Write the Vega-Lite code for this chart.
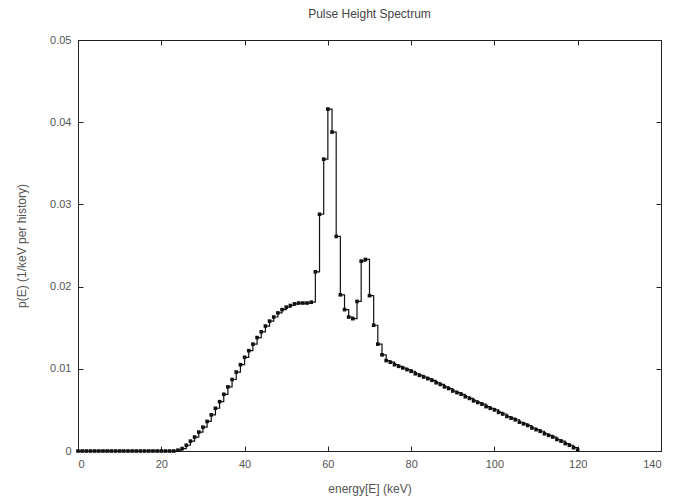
{
  "$schema": "https://vega.github.io/schema/vega-lite/v6.json",
  "width": 583,
  "height": 411,
  "autosize": {"type": "none"},
  "padding": {"left": 78, "top": 40, "right": 13, "bottom": 48},
  "background": "white",
  "config": {
    "view": {"stroke": null},
    "font": "Liberation Sans",
    "axis": {
      "domainColor": "#222",
      "domainWidth": 1,
      "tickColor": "#222",
      "tickSize": -5,
      "grid": false,
      "labelFont": "Liberation Sans",
      "labelFontSize": 11,
      "labelColor": "#555",
      "titleFont": "Liberation Sans",
      "titleFontSize": 12,
      "titleFontWeight": "normal",
      "titleColor": "#555"
    }
  },
  "title": {
    "text": "Pulse Height Spectrum",
    "fontSize": 12,
    "fontWeight": "normal",
    "color": "#444",
    "font": "Liberation Sans",
    "offset": 13
  },
  "data": {
    "values": [
      {"E":0,"p":0},{"E":1,"p":0},{"E":2,"p":0},{"E":3,"p":0},{"E":4,"p":0},{"E":5,"p":0},{"E":6,"p":0},{"E":7,"p":0},{"E":8,"p":0},{"E":9,"p":0},
      {"E":10,"p":0},{"E":11,"p":0},{"E":12,"p":0},{"E":13,"p":0},{"E":14,"p":0},{"E":15,"p":0},{"E":16,"p":0},{"E":17,"p":0},{"E":18,"p":0},{"E":19,"p":0},
      {"E":20,"p":0},{"E":21,"p":0},{"E":22,"p":0},{"E":23,"p":0},{"E":24,"p":0.0001},
      {"E":25,"p":0.0003},{"E":26,"p":0.0007},{"E":27,"p":0.0012},{"E":28,"p":0.0017},{"E":29,"p":0.0023},
      {"E":30,"p":0.0029},{"E":31,"p":0.0036},{"E":32,"p":0.0044},{"E":33,"p":0.0052},{"E":34,"p":0.0060},
      {"E":35,"p":0.0069},{"E":36,"p":0.0078},{"E":37,"p":0.0087},{"E":38,"p":0.0096},{"E":39,"p":0.0105},
      {"E":40,"p":0.0114},{"E":41,"p":0.0122},{"E":42,"p":0.0130},{"E":43,"p":0.0138},{"E":44,"p":0.0145},
      {"E":45,"p":0.0152},{"E":46,"p":0.0158},{"E":47,"p":0.0163},{"E":48,"p":0.0168},{"E":49,"p":0.0172},
      {"E":50,"p":0.0175},{"E":51,"p":0.0177},{"E":52,"p":0.0179},{"E":53,"p":0.0180},{"E":54,"p":0.0180},
      {"E":55,"p":0.0180},{"E":56,"p":0.0181},
      {"E":57,"p":0.0218},{"E":58,"p":0.0288},{"E":59,"p":0.0355},{"E":60,"p":0.0416},{"E":61,"p":0.0388},
      {"E":62,"p":0.0261},{"E":63,"p":0.0190},{"E":64,"p":0.0172},{"E":65,"p":0.0163},{"E":66,"p":0.0161},
      {"E":67,"p":0.0182},{"E":68,"p":0.0231},{"E":69,"p":0.0233},{"E":70,"p":0.0189},{"E":71,"p":0.0153},
      {"E":72,"p":0.0130},{"E":73,"p":0.0117},
      {"E":74,"p":0.0110},{"E":75,"p":0.0108},{"E":76,"p":0.0105},{"E":77,"p":0.0103},{"E":78,"p":0.0101},
      {"E":79,"p":0.0099},{"E":80,"p":0.0097},{"E":81,"p":0.0094},{"E":82,"p":0.0092},{"E":83,"p":0.0090},
      {"E":84,"p":0.0088},{"E":85,"p":0.0086},{"E":86,"p":0.0083},{"E":87,"p":0.0081},{"E":88,"p":0.0078},
      {"E":89,"p":0.0076},{"E":90,"p":0.0073},{"E":91,"p":0.0071},{"E":92,"p":0.0069},{"E":93,"p":0.0066},
      {"E":94,"p":0.0064},{"E":95,"p":0.0061},{"E":96,"p":0.0059},{"E":97,"p":0.0057},{"E":98,"p":0.0054},
      {"E":99,"p":0.0052},{"E":100,"p":0.0050},{"E":101,"p":0.0047},{"E":102,"p":0.0045},{"E":103,"p":0.0042},
      {"E":104,"p":0.0040},{"E":105,"p":0.0038},{"E":106,"p":0.0035},{"E":107,"p":0.0033},{"E":108,"p":0.0031},
      {"E":109,"p":0.0028},{"E":110,"p":0.0026},{"E":111,"p":0.0024},{"E":112,"p":0.0021},{"E":113,"p":0.0019},
      {"E":114,"p":0.0017},{"E":115,"p":0.0014},{"E":116,"p":0.0012},{"E":117,"p":0.0009},{"E":118,"p":0.0007},
      {"E":119,"p":0.0004},{"E":120,"p":0.0001}
    ]
  },
  "resolve": {"axis": {"x": "independent", "y": "independent"}},
  "layer": [
    {
      "mark": {"type": "line", "interpolate": "step-after", "color": "#111", "strokeWidth": 1.2},
      "encoding": {
        "x": {
          "field": "E", "type": "quantitative",
          "scale": {"domain": [0, 140], "nice": false},
          "axis": {"orient": "bottom", "values": [0, 20, 40, 60, 80, 100, 120, 140], "title": "energy[E] (keV)", "labelPadding": 12, "titlePadding": 14}
        },
        "y": {
          "field": "p", "type": "quantitative",
          "scale": {"domain": [0, 0.05], "nice": false},
          "axis": {"orient": "left", "values": [0, 0.01, 0.02, 0.03, 0.04, 0.05], "format": "~g", "title": "p(E) (1/keV per history)", "labelPadding": 12, "titlePadding": 21}
        }
      }
    },
    {
      "mark": {"type": "point", "filled": true, "shape": "square", "size": 13, "color": "#111", "opacity": 1},
      "encoding": {
        "x": {
          "field": "E", "type": "quantitative",
          "scale": {"domain": [0, 140], "nice": false},
          "axis": {"orient": "top", "values": [0, 20, 40, 60, 80, 100, 120, 140], "labels": false, "title": null}
        },
        "y": {
          "field": "p", "type": "quantitative",
          "scale": {"domain": [0, 0.05], "nice": false},
          "axis": {"orient": "right", "values": [0, 0.01, 0.02, 0.03, 0.04, 0.05], "labels": false, "title": null}
        }
      }
    }
  ]
}
